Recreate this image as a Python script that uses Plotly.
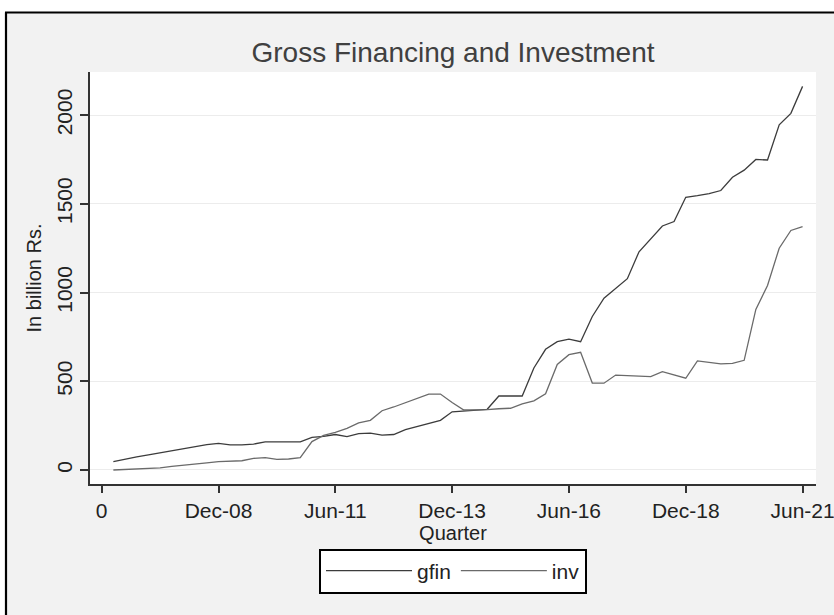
import plotly.graph_objects as go

# Quarter index (1 = Sep-06 ... 60 = Jun-21)
quarter = list(range(1, 61))

# Gross financing, in billion Rs.
gfin = [47, 62, 74, 85, 97, 108, 120, 131, 143, 150,
        141, 141, 146, 158, 158, 158, 158, 184, 189, 200,
        188, 205, 208, 197, 200, 228, 245, 265, 280, 328,
        334, 338, 342, 417, 417, 417, 575, 680, 723, 737,
        723, 865, 968, 1025, 1078, 1230, 1305, 1375, 1400, 1537,
        1546, 1558, 1575, 1650, 1690, 1750, 1747, 1945, 2010, 2162]

# Investment, in billion Rs.
inv = [0, 2, 8, 10, 12, 20, 28, 34, 40, 47,
       50, 52, 65, 70, 60, 62, 70, 160, 195, 212,
       235, 265, 280, 334, 355, 378, 405, 428, 428, 380,
       338, 338, 340, 345, 348, 372, 390, 430, 595, 650,
       663, 490, 489, 535, 532, 533, 526, 554, 537, 517,
       615, 605, 598, 601, 618, 905, 1040, 1250, 1350, 1371]

x_tickvals = [0, 10, 20, 30, 40, 50, 60]
x_ticktext = ["0", "Dec-08", "Jun-11", "Dec-13", "Jun-16", "Dec-18", "Jun-21"]
y_tickvals = [0, 500, 1000, 1500, 2000]

FONT = "Arial, 'Liberation Sans', sans-serif"

# plot-area geometry in pixels (used to place the outer frame)
W, H = 834, 615
L, R, T, B = 90, 18, 72, 131
PW, PH = W - L - R, H - T - B


def px_x(p):
    return (p - L) / PW


def px_y(p):
    return (H - B - p) / PH


fig = go.Figure()
fig.add_trace(go.Scatter(x=quarter, y=gfin, mode="lines", name="gfin",
                         line=dict(color="#3c3c3c", width=1.3)))
fig.add_trace(go.Scatter(x=quarter, y=inv, mode="lines", name="inv",
                         line=dict(color="#6a6a6a", width=1.3)))

shapes = [
    # white strips outside the frame
    dict(type="rect", xref="paper", yref="paper", x0=px_x(-5), x1=px_x(5),
         y0=px_y(H + 5), y1=px_y(-5), fillcolor="white", line=dict(width=0), layer="above"),
    dict(type="rect", xref="paper", yref="paper", x0=px_x(-5), x1=px_x(W + 5),
         y0=px_y(12), y1=px_y(-5), fillcolor="white", line=dict(width=0), layer="above"),
    # frame lines (left and top)
    dict(type="line", xref="paper", yref="paper", x0=px_x(6), x1=px_x(6),
         y0=px_y(12.5), y1=px_y(H + 5), line=dict(color="black", width=2.2), layer="above"),
    dict(type="line", xref="paper", yref="paper", x0=px_x(5), x1=px_x(W + 5),
         y0=px_y(12.5), y1=px_y(12.5), line=dict(color="black", width=2.2), layer="above"),
]

fig.update_layout(
    width=W, height=H,
    margin=dict(l=L, r=R, t=T, b=B, autoexpand=False),
    paper_bgcolor="#f2f2f2",
    plot_bgcolor="white",
    font=dict(family=FONT, color="#222222", size=21),
    title=dict(text="Gross Financing and Investment", x=0.5, xref="paper",
               y=1 - 52 / H, yref="container", xanchor="center", yanchor="middle",
               font=dict(size=28, color="#404040", family=FONT)),
    showlegend=True,
    legend=dict(orientation="h", x=0.5, xanchor="center",
                y=px_y(571), yanchor="middle",
                bgcolor="white", bordercolor="black", borderwidth=2,
                font=dict(size=21, color="#222222"), itemwidth=86,
                traceorder="normal"),
    shapes=shapes,
)

fig.update_xaxes(
    range=[-1.0, 61.15], automargin=False,
    tickmode="array", tickvals=x_tickvals, ticktext=x_ticktext,
    ticks="outside", ticklen=7, tickwidth=1.5, tickcolor="#333333",
    showline=True, linecolor="#333333", linewidth=1.5,
    showgrid=False, zeroline=False,
    ticklabeloverflow="allow",
    tickfont=dict(size=21, color="#222222"),
    title=dict(text="Quarter", standoff=0, font=dict(size=20, color="#222222")),
)
fig.update_yaxes(
    range=[-79, 2243], automargin=False,
    tickmode="array", tickvals=y_tickvals,
    ticks="outside", ticklen=8, tickwidth=1.5, tickcolor="#333333",
    showline=True, linecolor="#333333", linewidth=1.5,
    showgrid=True, gridcolor="#ececec", gridwidth=1, zeroline=False,
    tickangle=-90,
    tickfont=dict(size=21, color="#222222"),
    title=dict(text="In billion Rs.", standoff=6, font=dict(size=20, color="#222222")),
)

fig.write_html("out.html")
